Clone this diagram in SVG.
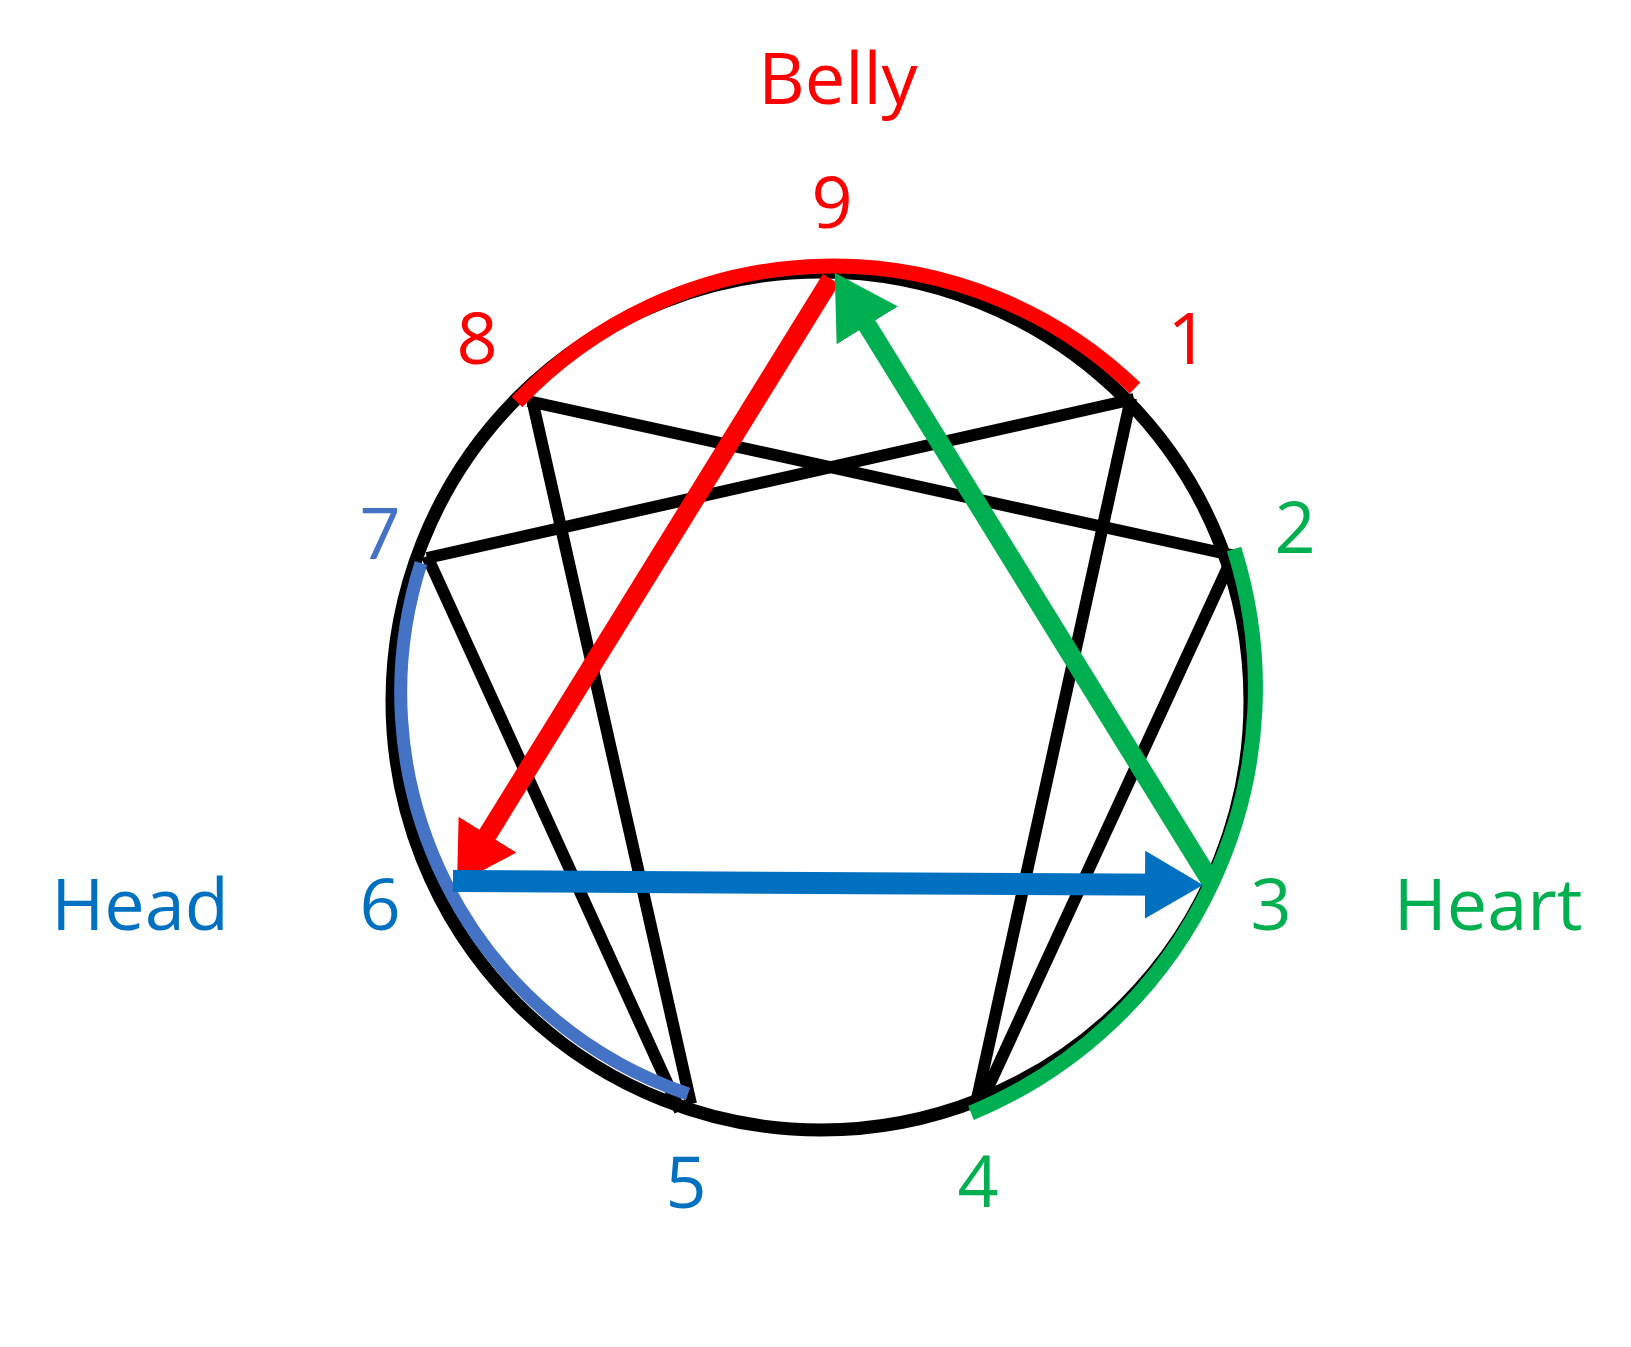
<svg xmlns="http://www.w3.org/2000/svg" width="1631" height="1347" viewBox="0 0 1631 1347">
  <style>
    .lbl { font-family: "Open Sans", "Liberation Sans", sans-serif; font-size: 72px; text-anchor: middle; }
    .red { fill: #FF0000; }
    .green { fill: #00B050; }
    .blue { fill: #0070C0; }
    .lblue { fill: #4472C4; }
    .blk { stroke: #000000; stroke-width: 12; fill: none; stroke-linecap: butt; }
    .arc { fill: none; stroke-linecap: butt; }
  </style>
  <defs>
    <marker id="headRed" markerUnits="userSpaceOnUse" viewBox="0 0 58 68" markerWidth="58" markerHeight="68" refX="29" refY="34" orient="auto">
      <path d="M0,0 L58,34 L0,68 z" fill="#FF0000"/>
    </marker>
    <marker id="headBlue" markerUnits="userSpaceOnUse" viewBox="0 0 58 68" markerWidth="58" markerHeight="68" refX="29" refY="34" orient="auto">
      <path d="M0,0 L58,34 L0,68 z" fill="#0070C0"/>
    </marker>
    <marker id="headGreen" markerUnits="userSpaceOnUse" viewBox="0 0 62 72" markerWidth="62" markerHeight="72" refX="31" refY="36" orient="auto">
      <path d="M0,0 L62,36 L0,72 z" fill="#00B050"/>
    </marker>
  </defs>
  <rect width="1631" height="1347" fill="#FFFFFF"/>

  <g id="circle">
    <circle cx="821" cy="701" r="429" fill="none" stroke="#000000" stroke-width="13"/>
  </g>

  <g id="connectors">
    <g id="hexad">
      <line class="blk" x1="427" y1="558" x2="1134" y2="399"/>
      <line class="blk" x1="528" y1="401" x2="1236" y2="556"/>
      <line class="blk" x1="1131" y1="398" x2="975" y2="1108"/>
      <line class="blk" x1="1234" y1="554" x2="980" y2="1105"/>
      <line class="blk" x1="532" y1="399" x2="691" y2="1104"/>
      <line class="blk" x1="427" y1="556" x2="680" y2="1111"/>
    </g>
    <g id="centre-arcs">
      <path class="arc" d="M517,402 A435,435 0 0 1 1135,388" stroke="#FF0000" stroke-width="15"/>
      <path class="arc" d="M1234,549 A460,460 0 0 1 971,1113" stroke="#00B050" stroke-width="15"/>
      <path class="arc" d="M421,563 A424,424 0 0 0 688,1094" stroke="#4472C4" stroke-width="13"/>
    </g>
    <g id="arrows">
      <line x1="831" y1="279" x2="472.3" y2="859.3" stroke="#FF0000" stroke-width="19" marker-end="url(#headRed)"/>
      <line x1="453" y1="881" x2="1174" y2="884.8" stroke="#0070C0" stroke-width="22" marker-end="url(#headBlue)"/>
      <line x1="1213" y1="885" x2="851" y2="299" stroke="#00B050" stroke-width="19" marker-end="url(#headGreen)"/>
    </g>
  </g>

  <g id="label-belly"><text class="lbl red" x="838" y="104">Belly</text></g>
  <g id="label-head"><text class="lbl blue" x="140" y="930">Head</text></g>
  <g id="label-heart"><text class="lbl green" x="1488" y="930">Heart</text></g>

  <g id="point-9"><text class="lbl red" x="832" y="228">9</text></g>
  <g id="point-1"><text class="lbl red" x="1188" y="364">1</text></g>
  <g id="point-8"><text class="lbl red" x="477" y="364">8</text></g>
  <g id="point-2"><text class="lbl green" x="1295" y="553">2</text></g>
  <g id="point-3"><text class="lbl green" x="1271" y="930">3</text></g>
  <g id="point-4"><text class="lbl green" x="978" y="1207">4</text></g>
  <g id="point-5"><text class="lbl blue" x="686" y="1208">5</text></g>
  <g id="point-6"><text class="lbl blue" x="380" y="930">6</text></g>
  <g id="point-7"><text class="lbl lblue" x="380" y="559">7</text></g>
</svg>
